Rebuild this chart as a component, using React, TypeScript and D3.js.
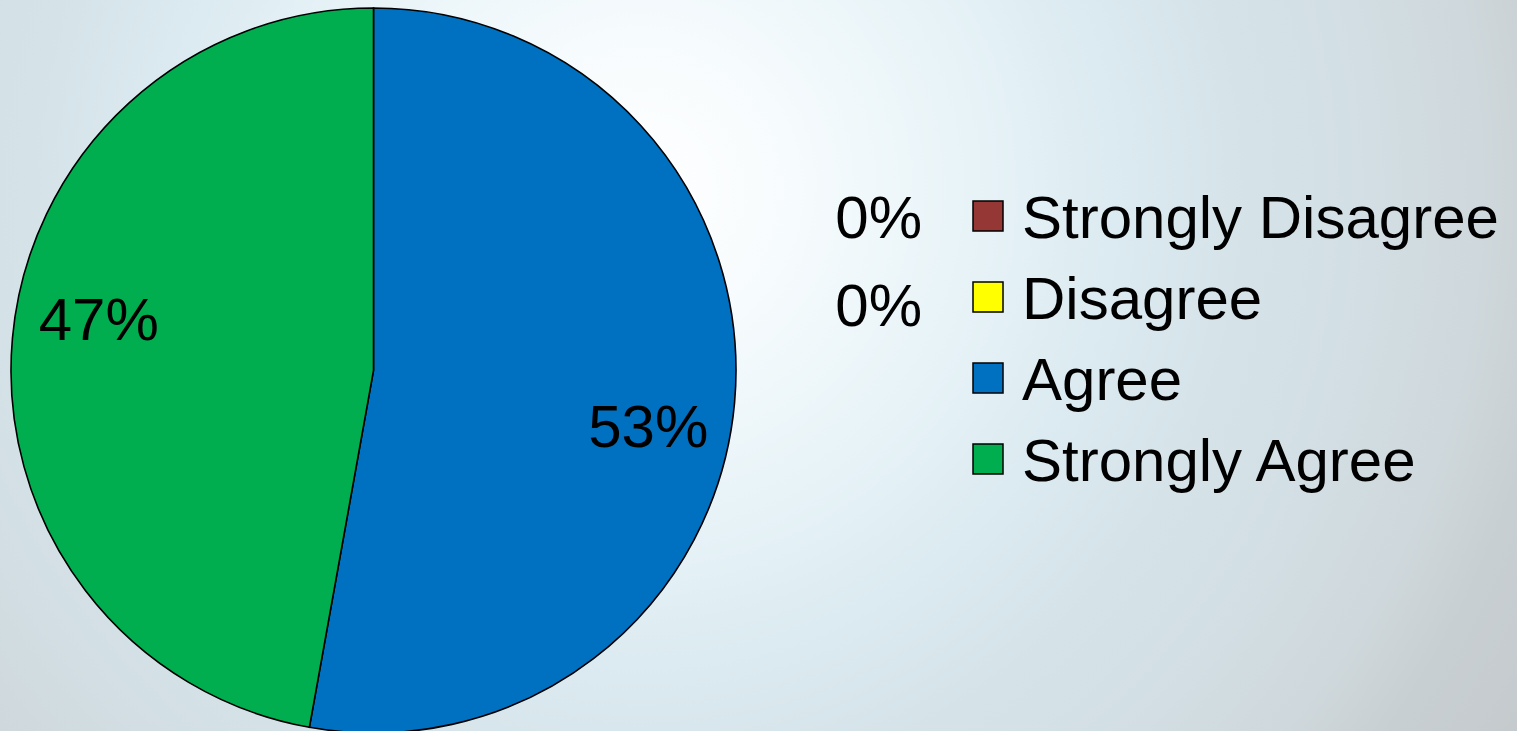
import React from "react";
import * as d3 from "d3";

const categories = ["Strongly Disagree", "Disagree", "Agree", "Strongly Agree"];
const counts = [0, 0, 28, 25];
const percentLabels = ["0%", "0%", "53%", "47%"];
const colors = ["#953735", "#FFFF00", "#0070C0", "#00AE4F"];

const W = 1517;
const H = 731;
const cx = 373.5;
const cy = 370.5;
const R = 362.5;
const FONT = "'Liberation Sans', Arial, sans-serif";

export default function App() {
  const pie = d3.pie<number>().sort(null).value((d) => d).startAngle(0).endAngle(2 * Math.PI);
  const arcs = pie(counts);
  const arcGen = d3.arc<d3.PieArcDatum<number>>().innerRadius(0).outerRadius(R);

  const legendY = d3.scalePoint<string>().domain(categories).range([238, 481]);
  const legendX = 973;
  const sq = 30;

  const labelR = 280;
  const shift = (6 * Math.PI) / 180;

  return (
    <svg width={W} height={H} style={{ position: "absolute", left: 0, top: 0 }}>
      <defs>
        <radialGradient id="bg" gradientUnits="userSpaceOnUse" cx={640} cy={190} r={1050}>
          <stop offset="0" stopColor="#ffffff" />
          <stop offset="0.15" stopColor="#f6fbfd" />
          <stop offset="0.3" stopColor="#e9f4f8" />
          <stop offset="0.45" stopColor="#dcebf1" />
          <stop offset="0.58" stopColor="#d5e3e9" />
          <stop offset="0.7" stopColor="#d2dee3" />
          <stop offset="0.8" stopColor="#cfd8dc" />
          <stop offset="0.88" stopColor="#c8cfd2" />
          <stop offset="1" stopColor="#c4c9cc" />
        </radialGradient>
      </defs>
      <rect x={0} y={0} width={W} height={H} fill="url(#bg)" />
      <g transform={`translate(${cx},${cy})`}>
        {arcs.map((a, i) =>
          a.endAngle > a.startAngle ? (
            <path key={i} d={arcGen(a) || ""} fill={colors[i]} stroke="#000" strokeWidth={1.6} />
          ) : null
        )}
        {arcs.map((a, i) => {
          if (a.endAngle <= a.startAngle) return null;
          const mid = (a.startAngle + a.endAngle) / 2 + shift;
          const x = labelR * Math.sin(mid);
          const y = -labelR * Math.cos(mid);
          return (
            <text
              key={"l" + i}
              x={x}
              y={y + 23}
              textAnchor="middle"
              fontFamily={FONT}
              fontSize={60}
              fill="#000"
            >
              {percentLabels[i]}
            </text>
          );
        })}
      </g>
      {categories.map((c, i) => {
        const by = legendY(c) as number;
        return (
          <g key={c}>
            <rect x={legendX} y={by - 37} width={sq} height={sq} fill={colors[i]} stroke="#000" strokeWidth={1.5} />
            <text x={1022} y={by} fontFamily={FONT} fontSize={60} fill="#000">
              {c}
            </text>
            {counts[i] === 0 ? (
              <text x={922} y={by + (i === 1 ? 7 : 0)} textAnchor="end" fontFamily={FONT} fontSize={60} fill="#000">
                {percentLabels[i]}
              </text>
            ) : null}
          </g>
        );
      })}
    </svg>
  );
}
